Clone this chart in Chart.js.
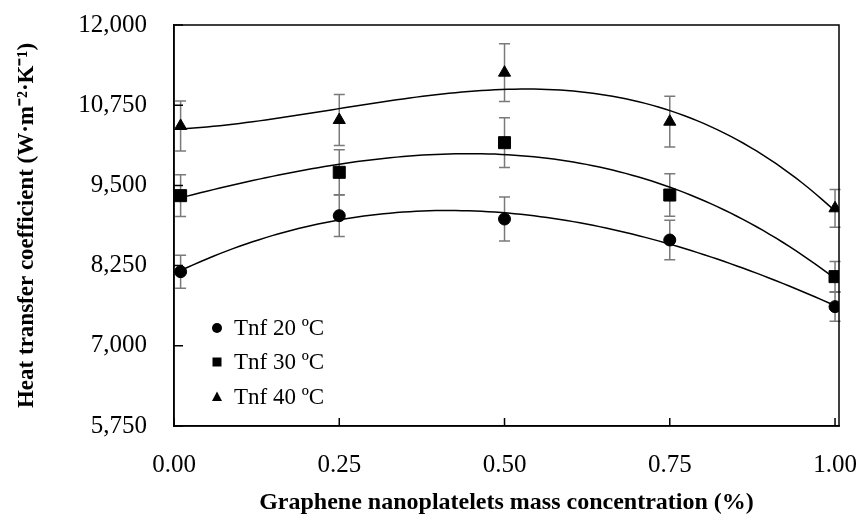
<!DOCTYPE html>
<html lang="en">
<head>
    <meta charset="UTF-8">
    <title>Heat transfer coefficient</title>
    <style>
        body {
            margin: 0;
            background-color: #fff;
        }
        #chart-container {
            width: 858px;
            height: 517px;
        }
    </style>
    <script src="https://cdn.jsdelivr.net/npm/chart.js"></script>
    <script>
        // values
        const concentration = [0.01, 0.25, 0.5, 0.75, 1.0];
        const htc20 = [8155, 9028, 8976, 8649, 7610];
        const htc30 = [9340, 9704, 10166, 9350, 8078];
        const htc40 = [10426, 10519, 11257, 10493, 9143];
        const err20 = [257, 325, 343, 306, 226];
        const err30 = [325, 353, 387, 330, 234];
        const err40 = [390, 397, 449, 395, 294];
        const seriesLabels = ['Tnf 20 ºC', 'Tnf 30 ºC', 'Tnf 40 ºC'];
        const xTicks = [0, 0.25, 0.5, 0.75, 1];
        const yTicks = [5750, 7000, 8250, 9500, 10750, 12000];

        const serif = '"Liberation Serif", "Times New Roman", serif';

        // least squares polynomial (order 3), like an Excel trendline
        function polyFit(xs, ys, order) {
            const n = order + 1;
            const A = [];
            for (let r = 0; r < n; r++) {
                A.push([]);
                for (let c = 0; c < n; c++) {
                    let s = 0;
                    xs.forEach(x => { s += Math.pow(x, r + c); });
                    A[r].push(s);
                }
                let s = 0;
                xs.forEach((x, i) => { s += ys[i] * Math.pow(x, r); });
                A[r].push(s);
            }
            for (let i = 0; i < n; i++) {
                let p = i;
                for (let k = i + 1; k < n; k++) if (Math.abs(A[k][i]) > Math.abs(A[p][i])) p = k;
                [A[i], A[p]] = [A[p], A[i]];
                for (let k = i + 1; k < n; k++) {
                    const f = A[k][i] / A[i][i];
                    for (let c = i; c <= n; c++) A[k][c] -= f * A[i][c];
                }
            }
            const coef = new Array(n).fill(0);
            for (let i = n - 1; i >= 0; i--) {
                let s = A[i][n];
                for (let c = i + 1; c < n; c++) s -= A[i][c] * coef[c];
                coef[i] = s / A[i][i];
            }
            return coef;
        }

        const errors = [err20, err30, err40];

        const extrasPlugin = {
            id: 'extras',
            beforeDatasetsDraw(chart) {
                const ctx = chart.ctx;
                const xs = chart.scales.x;
                const ys = chart.scales.y;
                ctx.save();
                // error bars
                ctx.strokeStyle = '#7a7a7a';
                ctx.lineWidth = 1.5;
                chart.data.datasets.forEach((ds, i) => {
                    ds.data.forEach((p, j) => {
                        const px = xs.getPixelForValue(p.x);
                        const top = ys.getPixelForValue(p.y + errors[i][j]);
                        const bot = ys.getPixelForValue(p.y - errors[i][j]);
                        ctx.beginPath();
                        ctx.moveTo(px, top);
                        ctx.lineTo(px, bot);
                        ctx.moveTo(px - 5.5, top);
                        ctx.lineTo(px + 5.5, top);
                        ctx.moveTo(px - 5.5, bot);
                        ctx.lineTo(px + 5.5, bot);
                        ctx.stroke();
                    });
                });
                // trendlines
                ctx.strokeStyle = '#000';
                ctx.lineWidth = 1.5;
                chart.data.datasets.forEach(ds => {
                    const xv = ds.data.map(p => p.x);
                    const yv = ds.data.map(p => p.y);
                    const c = polyFit(xv, yv, 3);
                    const x0 = xv[0], x1 = xv[xv.length - 1];
                    ctx.beginPath();
                    for (let k = 0; k <= 100; k++) {
                        const x = x0 + (x1 - x0) * k / 100;
                        const y = c[0] + c[1] * x + c[2] * x * x + c[3] * x * x * x;
                        const px = xs.getPixelForValue(x);
                        const py = ys.getPixelForValue(y);
                        if (k === 0) ctx.moveTo(px, py); else ctx.lineTo(px, py);
                    }
                    ctx.stroke();
                });
                ctx.restore();
            },
            afterDraw(chart) {
                const ctx = chart.ctx;
                const a = chart.chartArea;
                const xs = chart.scales.x;
                const ys = chart.scales.y;
                ctx.save();
                ctx.strokeStyle = '#000';
                ctx.lineWidth = 1.5;
                ctx.strokeRect(a.left, a.top, a.right - a.left, a.bottom - a.top);
                // inward tick marks
                ctx.beginPath();
                xTicks.forEach(v => {
                    const px = xs.getPixelForValue(v);
                    ctx.moveTo(px, a.bottom);
                    ctx.lineTo(px, a.bottom - 8);
                });
                yTicks.forEach(v => {
                    const py = ys.getPixelForValue(v);
                    ctx.moveTo(a.left, py);
                    ctx.lineTo(a.left + 9, py);
                });
                ctx.stroke();

                // legend in the lower left of the plot
                ctx.fillStyle = '#000';
                ctx.font = '23px ' + serif;
                ctx.textBaseline = 'middle';
                const lx = a.left + 43;
                const rows = [328, 362, 397];
                chart.data.datasets.forEach((ds, i) => {
                    const y = rows[i];
                    ctx.beginPath();
                    if (ds.pointStyle === 'circle') {
                        ctx.arc(lx, y, 5, 0, Math.PI * 2);
                    } else if (ds.pointStyle === 'rect') {
                        ctx.rect(lx - 4.5, y - 4.5, 9, 9);
                    } else {
                        ctx.moveTo(lx, y - 5.5);
                        ctx.lineTo(lx + 5, y + 4);
                        ctx.lineTo(lx - 5, y + 4);
                        ctx.closePath();
                    }
                    ctx.fill();
                    ctx.fillText(ds.label, lx + 17, y + 1);
                });
                ctx.restore();
            }
        };

        window.onload = function() {
            const ctx = document.getElementById('htc-chart').getContext('2d');
            const makeData = vals => concentration.map((x, i) => ({ x: x, y: vals[i] }));
            new Chart(ctx, {
                type: 'scatter',
                data: {
                    datasets: [{
                        label: seriesLabels[0],
                        data: makeData(htc20),
                        pointStyle: 'circle',
                        pointRadius: 6,
                        backgroundColor: '#000',
                        borderColor: '#000'
                    }, {
                        label: seriesLabels[1],
                        data: makeData(htc30),
                        pointStyle: 'rect',
                        pointRadius: 8.5,
                        backgroundColor: '#000',
                        borderColor: '#000'
                    }, {
                        label: seriesLabels[2],
                        data: makeData(htc40),
                        pointStyle: 'triangle',
                        pointRadius: 7,
                        backgroundColor: '#000',
                        borderColor: '#000'
                    }]
                },
                options: {
                    responsive: false,
                    animation: false,
                    layout: {
                        padding: { top: 25, right: 19, left: 0, bottom: 0 }
                    },
                    plugins: {
                        legend: { display: false },
                        tooltip: { enabled: false }
                    },
                    scales: {
                        x: {
                            type: 'linear',
                            min: 0,
                            max: 1.006,
                            afterBuildTicks: s => { s.ticks = xTicks.map(v => ({ value: v })); },
                            afterFit: s => {
                                s.height = 91;
                                s.paddingLeft = 0;
                                s.paddingRight = 0;
                            },
                            grid: { display: false, drawTicks: false },
                            border: { display: true, color: '#000', width: 1.5 },
                            ticks: {
                                callback: v => v.toFixed(2),
                                color: '#000',
                                font: { family: serif, size: 25 },
                                padding: 24,
                                maxRotation: 0,
                                autoSkip: false
                            },
                            title: {
                                display: true,
                                text: 'Graphene nanoplatelets mass concentration (%)',
                                color: '#000',
                                font: { family: serif, size: 24, weight: 'bold' },
                                padding: { top: 0, bottom: 0 }
                            }
                        },
                        y: {
                            min: 5750,
                            max: 12000,
                            afterBuildTicks: s => { s.ticks = yTicks.map(v => ({ value: v })); },
                            afterFit: s => {
                                s.width = 174;
                                s.paddingTop = 0;
                                s.paddingBottom = 0;
                            },
                            grid: { display: false, drawTicks: false },
                            border: { display: true, color: '#000', width: 1.5 },
                            ticks: {
                                callback: v => v.toLocaleString('en-US'),
                                color: '#000',
                                font: { family: serif, size: 25 },
                                padding: 27
                            },
                            title: {
                                display: true,
                                text: 'Heat transfer coefficient (W·m⁻²·K⁻¹)',
                                color: '#000',
                                font: { family: serif, size: 23, weight: 'bold' },
                                padding: { top: 13, bottom: 0 }
                            }
                        }
                    }
                },
                plugins: [extrasPlugin]
            });
        };
    </script>
</head>
<body>
    <div id="chart-container">
        <canvas id="htc-chart" width="858" height="517"></canvas>
    </div>
</body>
</html>
